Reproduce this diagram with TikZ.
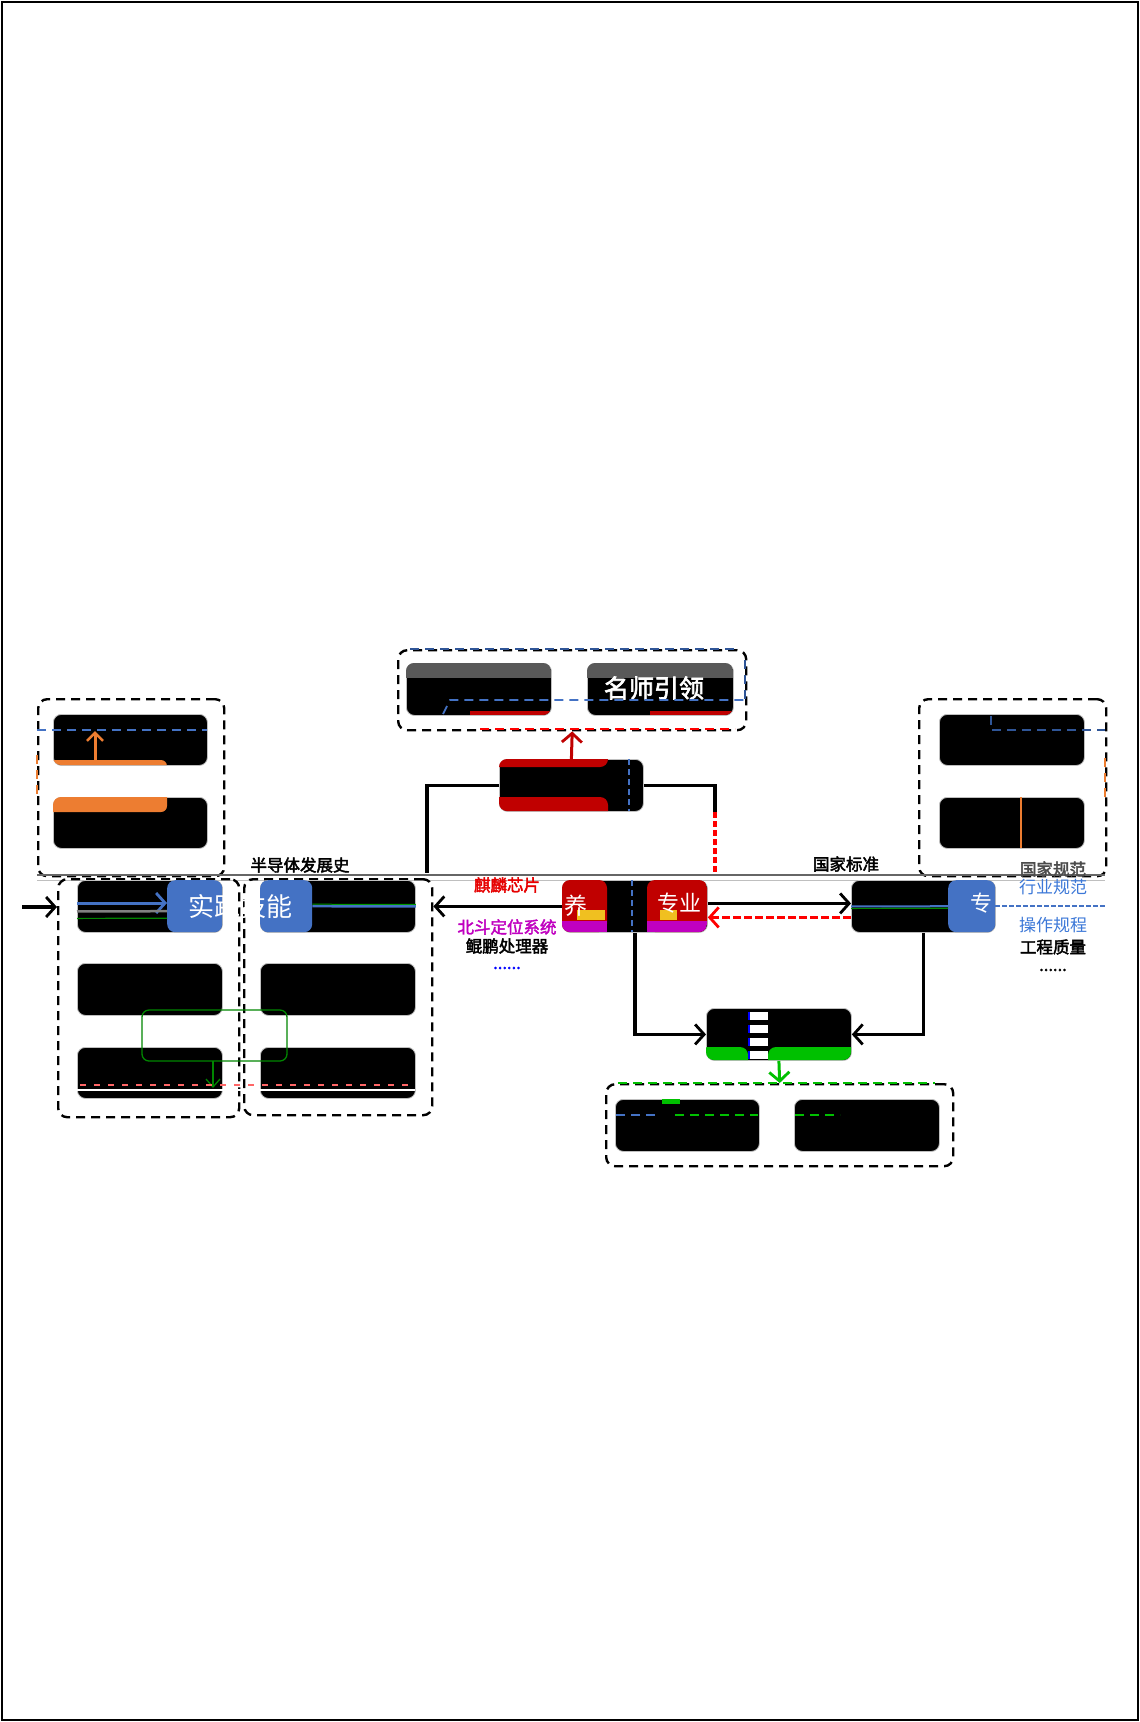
\documentclass[tikz,border=0pt]{standalone}
\usepackage{fontspec}
\setmainfont{Noto Sans CJK SC}
\newfontfamily\cjkb{Noto Sans CJK SC}[FakeBold=2.5]
\usetikzlibrary{arrows.meta}
\definecolor{dred}{HTML}{C00000}
\definecolor{bred}{HTML}{E60000}
\definecolor{bblue}{HTML}{4472C4}
\definecolor{lblue}{HTML}{3C78D8}
\definecolor{dblue}{HTML}{2F5597}
\definecolor{orng}{HTML}{ED7D31}
\definecolor{grn}{HTML}{00C000}
\definecolor{mag}{HTML}{C000C0}
\definecolor{yel}{HTML}{F0C020}
\begin{document}
\begin{tikzpicture}[x=1pt,y=-1pt,
  blk/.style={fill=black,draw=gray!50,line width=0.8pt,rounded corners=8pt,anchor=north west,inner sep=0pt},
  grp/.style={draw=black,dash pattern=on 9pt off 6pt,line width=2.4pt,rounded corners=9pt,anchor=north west,inner sep=0pt},
  sq/.style={fill=bblue,rounded corners=8pt,anchor=north west,inner sep=0pt},
  conn/.style={draw=black,line width=3.4pt},
  tip/.style={-{Straight Barb[length=9pt,width=20pt,line width=2.8pt]}},
  lbl/.style={font=\cjkb\fontsize{16.5}{18}\selectfont,inner sep=0pt},
  lst/.style={font=\fontsize{17}{18}\selectfont,inner sep=0pt},
  wtxt/.style={text=white,inner sep=0pt}]
\useasboundingbox (0,0) rectangle (1140,1722);
\fill[white] (0,0) rectangle (1140,1722);
\draw[line width=2pt] (2,2) rectangle (1138,1720);

% ---------- top group ----------
\node[grp,minimum width=348pt,minimum height=80pt] (GT) at (397,649) {};
\draw[dblue,dash pattern=on 9pt off 6pt,line width=2.4pt] (410,649) -- (735,649);
\draw[dblue,dash pattern=on 9pt off 6pt,line width=2.4pt] (745,660) -- (745,700);
\draw[red,dash pattern=on 9pt off 6pt,line width=2.4pt] (480,729) -- (735,729);
\node[blk,minimum width=145pt,minimum height=52pt] (TA) at (406,663) {};
\node[blk,minimum width=146pt,minimum height=52pt] (TB) at (587,663) {};
\begin{scope}
\clip[rounded corners=8pt] (406,663) rectangle (551,715);
\fill[gray!70!black] (406,663) rectangle (551,678);
\fill[dred] (470,711) rectangle (551,715);
\end{scope}
\begin{scope}
\clip[rounded corners=8pt] (587,663) rectangle (733,715);
\fill[gray!70!black] (587,663) rectangle (733,678);
\fill[dred] (650,711) rectangle (733,715);
\end{scope}
\node[wtxt,font=\cjkb\fontsize{25}{27}\selectfont] (TBt) at (654,688) {名师引领};
\draw[bblue,dash pattern=on 9pt off 6pt,line width=1.8pt] (443,714) -- (450,700) -- (745,700);

% ---------- centre top box ----------
\node[blk,minimum width=144pt,minimum height=52pt] (C0) at (499,759) {};
\begin{scope}
\clip[rounded corners=8pt] (499,759) rectangle (643,811);
\fill[dred,rounded corners=8pt] (490,750) rectangle (608,767);
\fill[dred,rounded corners=8pt] (490,797) rectangle (608,820);
\end{scope}
\draw[bblue,dash pattern=on 6pt off 4pt,line width=2pt] (629,759) -- (629,811);
\draw[dred,line width=3pt,tip] (C0.north) -- (GT.south);
\coordinate (cl) at (427,873);
\draw[conn] (C0.west) -| (cl);
\coordinate (cr1) at (715,812);
\coordinate (cr) at (715,875);
\draw[conn] (C0.east) -| (cr1);
\draw[red,line width=3.4pt,dash pattern=on 6pt off 3pt] (cr1) -- (cr);

% ---------- top-left group ----------
\node[grp,minimum width=186pt,minimum height=177pt] (GLT) at (37,698) {};
\draw[orng,dash pattern=on 9pt off 6pt,line width=2.4pt] (37,755) -- (37,800);
\node[blk,minimum width=154pt,minimum height=51pt] (LTa) at (53,714) {};
\node[blk,minimum width=154pt,minimum height=51pt] (LTb) at (53,797) {};
\begin{scope}
\clip[rounded corners=8pt] (53,714) rectangle (207,765);
\fill[orng,rounded corners=6pt] (45,760) rectangle (167,775);
\end{scope}
\begin{scope}
\clip[rounded corners=8pt] (53,797) rectangle (207,848);
\fill[orng,rounded corners=6pt] (45,790) rectangle (167,812);
\end{scope}
\draw[bblue,dash pattern=on 9pt off 6pt,line width=1.8pt] (37,730) -- (207,730);
\coordinate (oa) at (95,760);
\coordinate (ob) at (95,731);
\draw[orng,line width=3pt,-{Straight Barb[length=8pt,width=16pt,line width=2.6pt]}] (oa) -- (ob);

% ---------- top-right group ----------
\node[grp,minimum width=187pt,minimum height=177pt] (GRT) at (918,698) {};
\draw[orng,dash pattern=on 9pt off 6pt,line width=2.4pt] (1105,758) -- (1105,800);
\node[blk,minimum width=145pt,minimum height=51pt] (RTa) at (939,714) {};
\node[blk,minimum width=145pt,minimum height=51pt] (RTb) at (939,797) {};
\draw[dblue,dash pattern=on 9pt off 6pt,line width=1.8pt] (991,716) -- (991,730) -- (1105,730);
\draw[orng,line width=2.5pt] (1021,797) -- (1021,848);

% ---------- gray band ----------
\coordinate (gl1) at (37,875);
\coordinate (gl2) at (1105,875);
\draw[gray!80!black,line width=2.4pt] (gl1) -- (gl2);
\draw[gray!50,line width=1pt] ([yshift=-5pt]gl1) -- ([yshift=-5pt]gl2);

% ---------- lower-left groups ----------
\node[grp,minimum width=181pt,minimum height=238pt] (G3) at (57,878) {};
\node[grp,minimum width=188pt,minimum height=236pt] (G4) at (243,878) {};
\node[blk,minimum width=145pt,minimum height=52pt] (L1) at (77,880) {};
\node[blk,minimum width=145pt,minimum height=52pt] (L2) at (77,963) {};
\node[blk,minimum width=145pt,minimum height=51pt] (L3) at (77,1047) {};
\node[blk,minimum width=155pt,minimum height=52pt] (L4) at (260,880) {};
\node[blk,minimum width=155pt,minimum height=52pt] (L5) at (260,963) {};
\node[blk,minimum width=155pt,minimum height=51pt] (L6) at (260,1047) {};
\node[sq,minimum width=55pt,minimum height=52pt] (L1s) at (167,880) {};
\node[sq,minimum width=52pt,minimum height=52pt] (L4s) at (260,880) {};
\node[wtxt,font=\fontsize{26}{28}\selectfont] (skill) at (240,907) {实践技能};
\coordinate (y903) at (0,903);
\draw[bblue,line width=3pt,tip] (L1.west |- y903) -- (L1s.west |- y903);
\draw[gray,line width=2.5pt] ([yshift=-5pt]L1.west) -- ([yshift=-5pt]L1s.west);
\draw[grn!70!black,line width=1.2pt] ([yshift=-12pt]L1.west) -- ([yshift=-12pt]L1s.west);
\draw[bblue,line width=2.5pt] (L4s.east) -- (L4.east);
\draw[grn!80!black,line width=1pt] ([yshift=2pt]L4s.east) -- ([yshift=2pt]L4.east);
\draw[grn!70!black,line width=1.3pt,rounded corners=7pt] (142,1010) rectangle (287,1061);
\coordinate (ga) at (213,1061);
\coordinate (gb) at (213,1088);
\draw[grn!70!black,line width=1.3pt,-{Straight Barb[length=8pt,width=14pt]}] (ga) -- (gb);
\draw[red!60,dash pattern=on 6pt off 8pt,line width=2pt] (80,1085) -- (410,1085);
\draw[white,line width=1.5pt] (77,1090) -- (415,1090);

% left entry arrow
\coordinate (lin) at (22,907);
\draw[conn,tip] (lin) -- (lin -| G3.west);

% ---------- centre box ----------
\node[blk,minimum width=145pt,minimum height=52pt] (M) at (562,880) {};
\begin{scope}
\clip[rounded corners=8pt] (562,880) rectangle (707,932);
\fill[dred,rounded corners=8pt] (562,880) rectangle (607,932);
\fill[dred,rounded corners=8pt] (647,880) rectangle (707,932);
\fill[yel] (577,910) rectangle (605,920);
\fill[yel] (660,910) rectangle (677,920);
\fill[mag] (562,921) rectangle (607,932);
\fill[mag] (647,921) rectangle (707,932);
\end{scope}
\draw[bblue,dash pattern=on 6pt off 4pt,line width=2pt] (632,880) -- (632,932);
\node[wtxt,font=\fontsize{23}{25}\selectfont] (Mt1) at (576,906) {养};
\node[wtxt,font=\fontsize{22}{24}\selectfont] (Mt2) at (679,903) {专业};

% ---------- right box ----------
\node[blk,minimum width=144pt,minimum height=52pt] (R) at (851,880) {};
\node[sq,minimum width=47pt,minimum height=52pt] (Rs) at (948,880) {};
\node[wtxt,font=\fontsize{22}{24}\selectfont] (Rt) at (981,903) {专};
\draw[grn!70!black,line width=1.2pt] ([yshift=-2pt]R.west) -- ([yshift=-2pt]Rs.west);
\draw[bblue,line width=2pt] (R.west) -- (Rs.west);
\draw[bblue,line width=2.5pt,dash pattern=on 5pt off 2pt] (Rs.east) -- (Rs.east -| gl2);

% ---------- connectors around centre ----------
\draw[conn,tip] (M.west) -- (M.west -| G4.east);
\draw[conn,tip] ([yshift=3pt]M.east) -- ([yshift=3pt]R.west);
\draw[red,line width=2.8pt,dash pattern=on 8pt off 3pt,tip] ([yshift=-11pt]R.west) -- ([yshift=-11pt]M.east);

% ---------- bottom box ----------
\node[blk,minimum width=145pt,minimum height=52pt] (B) at (706,1008) {};
\begin{scope}
\clip[rounded corners=8pt] (706,1008) rectangle (851,1060);
\fill[grn,rounded corners=8pt] (700,1047) rectangle (748,1070);
\fill[grn,rounded corners=8pt] (768,1047) rectangle (860,1070);
\end{scope}
\foreach \i in {0,1,2,3} {
  \fill[white] (750,1012+13*\i) rectangle (768,1020+13*\i);
  \fill[blue] (748,1012+13*\i) rectangle (750,1020+13*\i);
}
\draw[conn,tip] (M.south) |- (B.west);
\draw[conn,tip] (R.south) |- (B.east);

% ---------- bottom group ----------
\node[grp,minimum width=347pt,minimum height=82pt] (GB) at (605,1083) {};
\draw[grn,dash pattern=on 9pt off 6pt,line width=2.4pt] (618,1083) -- (935,1083);
\node[blk,minimum width=144pt,minimum height=52pt] (BA) at (615,1099) {};
\node[blk,minimum width=145pt,minimum height=52pt] (BB) at (794,1099) {};
\draw[bblue,dash pattern=on 9pt off 6pt,line width=1.8pt] (616,1115) -- (655,1115);
\draw[grn,dash pattern=on 9pt off 6pt,line width=1.8pt] (675,1115) -- (758,1115);
\draw[grn,dash pattern=on 9pt off 6pt,line width=1.8pt] (795,1115) -- (840,1115);
\fill[grn] (662,1099) rectangle (680,1104);
\draw[grn,line width=3pt,tip] (B.south) -- (GB.north);

% ---------- labels ----------
\node[lbl] (t1) at (300,865) {半导体发展史};
\node[lbl] (t2) at (846,864) {国家标准};
\node[lbl,text=bred] (c1) at (507,885) {麒麟芯片};
\node[lbl,text=mag] (c2) at (507,927) {北斗定位系统};
\node[lbl] (c3) at (507,946) {鲲鹏处理器};
\node[lbl,text=blue] (c4) at (507,968) {......};
\node[lbl,text=gray!60!black] (r0) at (1053,869) {国家规范};
\node[lst,text=lblue] (r1) at (1053,887) {行业规范};
\node[lst,text=lblue] (r2) at (1053,925) {操作规程};
\node[lbl] (r3) at (1053,947) {工程质量};
\node[lbl] (r4) at (1053,970) {......};
\end{tikzpicture}
\end{document}
